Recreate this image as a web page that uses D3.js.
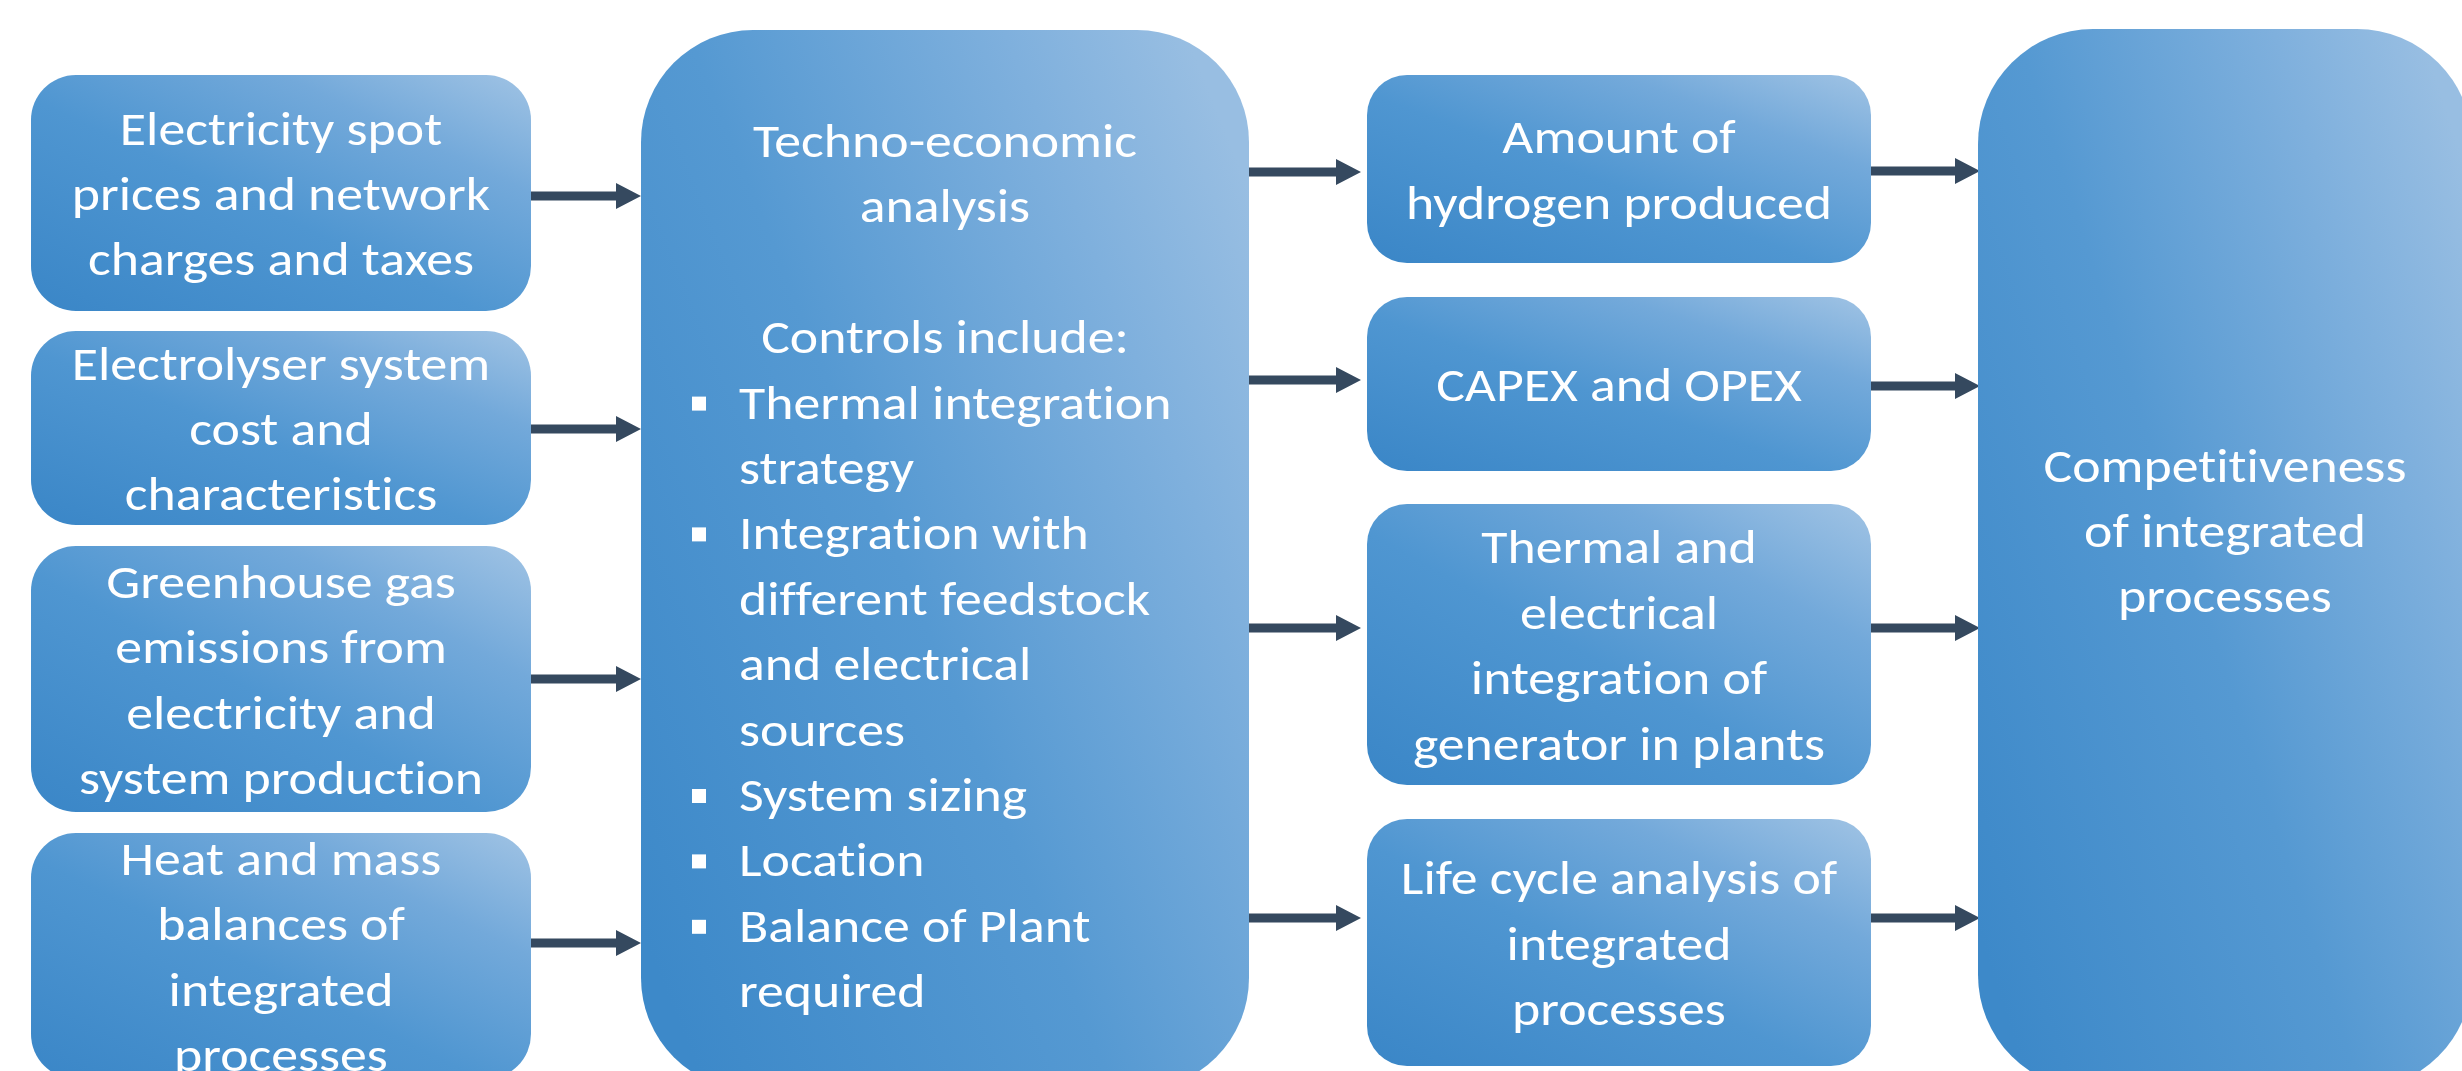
<!DOCTYPE html>
<html>
<head>
<meta charset="utf-8">
<script src="https://cdn.jsdelivr.net/npm/d3@7"></script>
<style>
  body { margin: 0; background: #fff; overflow: hidden; }
  text { font-family: Carlito, Calibri, Lato, sans-serif; fill: #fff; font-variant-ligatures: none; }
</style>
</head>
<body>
<div id="chart"></div>
<script>
// ---- diagram content ----
var inputLabels = [
    ["Electricity spot", "prices and network", "charges and taxes"],
    ["Electrolyser system", "cost and", "characteristics"],
    ["Greenhouse gas", "emissions from", "electricity and", "system production"],
    ["Heat and mass", "balances of", "integrated", "processes"]
];
var analysisHeader = ["Techno-economic", "analysis", "", "Controls include:"];
var controlItems = [
    ["Thermal integration", "strategy"],
    ["Integration with", "different feedstock", "and electrical", "sources"],
    ["System sizing"],
    ["Location"],
    ["Balance of Plant", "required"]
];
var outputLabels = [
    ["Amount of", "hydrogen produced"],
    ["CAPEX and OPEX"],
    ["Thermal and", "electrical", "integration of", "generator in plants"],
    ["Life cycle analysis of", "integrated", "processes"]
];
var resultLabel = ["Competitiveness", "of integrated", "processes"];

// ---- layout ----
var W = 2462, H = 1071;
var fs = 48, sx = 1.12, lh = 65.4, base = 17;
var arrowColor = "#35495f";

var inputBoxes = [
    {x: 31, y: 75, w: 500, h: 236, ay: 196},
    {x: 31, y: 331, w: 500, h: 194, ay: 429},
    {x: 31, y: 546, w: 500, h: 266, ay: 679},
    {x: 31, y: 833, w: 500, h: 246, ay: 943}
];
var centerBox = {x: 641, y: 30, w: 608, h: 1060};
var outputBoxes = [
    {x: 1367, y: 75, w: 504, h: 188, ayIn: 172, ayOut: 171},
    {x: 1367, y: 297, w: 504, h: 174, ayIn: 380, ayOut: 386},
    {x: 1367, y: 504, w: 504, h: 281, ayIn: 628, ayOut: 628},
    {x: 1367, y: 819, w: 504, h: 247, ayIn: 918, ayOut: 918}
];
var resultBox = {x: 1978, y: 29, w: 494, h: 1061};

var svg = d3.select("#chart").append("svg")
    .attr("width", W)
    .attr("height", H);

var defs = svg.append("defs");
var grad = defs.append("linearGradient")
    .attr("id", "boxGrad")
    .attr("x1", 0).attr("y1", 1)
    .attr("x2", 1).attr("y2", 0);
grad.append("stop").attr("offset", "0%").attr("stop-color", "#3a86c7");
grad.append("stop").attr("offset", "45%").attr("stop-color", "#4f96d1");
grad.append("stop").attr("offset", "75%").attr("stop-color", "#73a9da");
grad.append("stop").attr("offset", "100%").attr("stop-color", "#a0c3e4");

var bigGrad = defs.append("linearGradient")
    .attr("id", "bigGrad")
    .attr("x1", 0).attr("y1", 0.85)
    .attr("x2", 1).attr("y2", 0.15);
bigGrad.append("stop").attr("offset", "0%").attr("stop-color", "#3d89c9");
bigGrad.append("stop").attr("offset", "45%").attr("stop-color", "#5599d2");
bigGrad.append("stop").attr("offset", "80%").attr("stop-color", "#7fb0dd");
bigGrad.append("stop").attr("offset", "100%").attr("stop-color", "#98bee2");

function box(b, r, fill) {
    svg.append("rect")
        .attr("x", b.x).attr("y", b.y)
        .attr("width", b.w).attr("height", b.h)
        .attr("rx", r).attr("ry", r)
        .style("fill", fill);
}

// text is a touch stretched sideways, like the original's Calibri
function label(x, y, str, anchor) {
    svg.append("text")
        .attr("transform", "translate(" + x + "," + y + ") scale(" + sx + ",1)")
        .attr("text-anchor", anchor)
        .style("font-size", fs + "px")
        .text(str);
}

function centredLines(lines, cx, cy) {
    var n = lines.length;
    lines.forEach(function(d, i) {
        label(cx, cy + (i - (n - 1) / 2) * lh + base, d, "middle");
    });
}

function arrow(x0, x1, y) {
    var t = 4.5, hw = 13, hl = 25;
    var pts = [[x0, y - t], [x1 - hl, y - t], [x1 - hl, y - hw], [x1, y],
               [x1 - hl, y + hw], [x1 - hl, y + t], [x0, y + t]];
    svg.append("path")
        .attr("d", d3.line()(pts) + "Z")
        .style("fill", arrowColor);
}

// input boxes
inputBoxes.forEach(function(b, i) {
    box(b, 45, "url(#boxGrad)");
    centredLines(inputLabels[i], b.x + b.w / 2, b.y + b.h / 2);
    arrow(b.x + b.w, centerBox.x, b.ay);
});

// central analysis box
box(centerBox, 112, "url(#bigGrad)");
var firstBase = 157;
analysisHeader.forEach(function(d, i) {
    if (d) label(centerBox.x + centerBox.w / 2, firstBase + i * lh, d, "middle");
});

var row = analysisHeader.length;
var bulletX = 692, textX = 739;
controlItems.forEach(function(item) {
    var y0 = firstBase + row * lh;
    svg.append("rect")
        .attr("x", bulletX).attr("y", y0 - 22)
        .attr("width", 14).attr("height", 14)
        .style("fill", "#fff");
    item.forEach(function(line, j) {
        label(textX, y0 + j * lh, line, "start");
    });
    row += item.length;
});

// output boxes
outputBoxes.forEach(function(b, i) {
    arrow(centerBox.x + centerBox.w, b.x - 6, b.ayIn);
    box(b, 40, "url(#boxGrad)");
    centredLines(outputLabels[i], b.x + b.w / 2, b.y + b.h / 2);
    arrow(b.x + b.w, resultBox.x + 2, b.ayOut);
});

// result box
box(resultBox, 115, "url(#bigGrad)");
centredLines(resultLabel, resultBox.x + resultBox.w / 2, 530);
</script>
</body>
</html>
